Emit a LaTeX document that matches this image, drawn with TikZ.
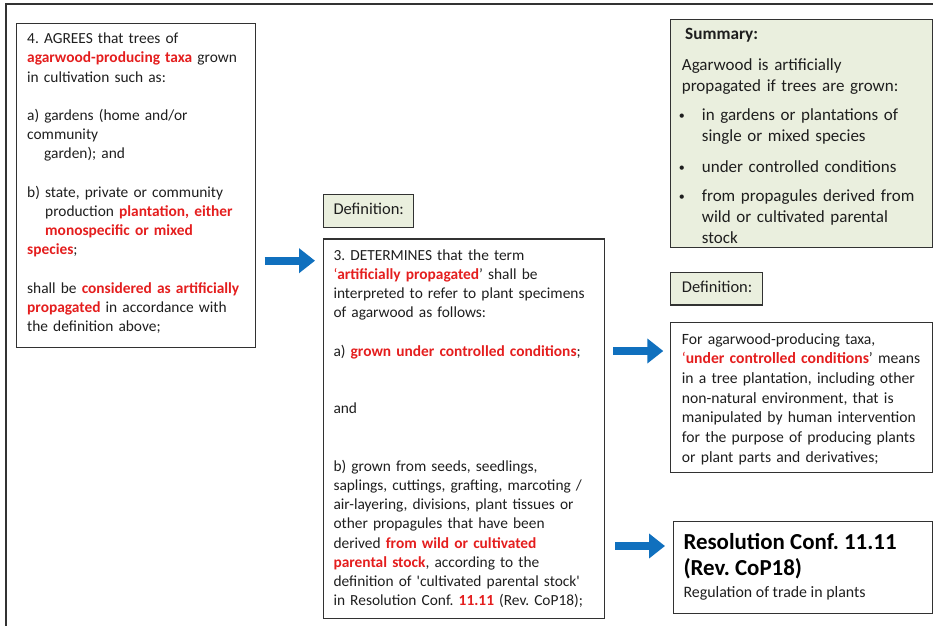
\documentclass[tikz,border=0pt]{standalone}
\usepackage{fontspec}
\setmainfont{Carlito}
\usetikzlibrary{arrows.meta}
\definecolor{agred}{RGB}{228,30,30}
\definecolor{txt}{RGB}{30,30,30}
\definecolor{edge}{RGB}{50,50,50}
\definecolor{sumfill}{RGB}{234,239,222}
\definecolor{arblue}{RGB}{16,112,190}
\frenchspacing
\newcommand\rb[1]{\textcolor{agred}{\textbf{#1}}}
\newcommand\redq{\textcolor{agred}{‘}}
\newcommand\tst{\noindent\rule{0pt}{0.9em}}
\newcommand\fsz[2]{\fontsize{#1}{#2}\selectfont}
\newcommand\bul{\hspace*{-4pt}\makebox[24pt][l]{\hspace*{1pt}{\fsz{12}{12}\raisebox{0.8pt}{•}}}}
\tikzset{
  boxframe/.style={draw=edge, line width=1.4pt, inner sep=0pt, anchor=north west},
  greenframe/.style={boxframe, fill=sumfill},
  txtnode/.style={text=txt, inner sep=0pt, anchor=north west, align=left, text width=300pt},
  linenode/.style={text=txt, inner sep=0pt, anchor=base west},
  blockarrow/.style={draw=arblue, line width=7.7pt, -{Triangle[width=24pt,length=16pt]}},
}
\begin{document}
\begin{tikzpicture}[x=1pt,y=-1pt]
\useasboundingbox (0,0) rectangle (933,626);
% outer frame (cropped)
\draw[draw=edge, line width=2pt] (933,4) -- (6,4) -- (6,626);

% ---- boxes ----
\node[boxframe, minimum width=239.3pt, minimum height=324pt] (b1) at (15.7,23) {};
\node[greenframe, minimum width=90.3pt, minimum height=32.7pt] (d1) at (322.7,194) {};
\node[boxframe, minimum width=281pt, minimum height=379.7pt] (b3) at (323,238.3) {};
\node[greenframe, minimum width=261.7pt, minimum height=227.7pt] (sum) at (670,19) {};
\node[greenframe, minimum width=91.7pt, minimum height=32.6pt] (d2) at (670,271.7) {};
\node[boxframe, minimum width=261.7pt, minimum height=150pt] (b4) at (670,321.7) {};
\node[boxframe, minimum width=259pt, minimum height=92pt] (b5) at (672.7,520.7) {};

% ---- box 1 text ----
\node[txtnode, font=\fsz{15.4}{19.2}] (t1) at (27,29.6) {\tst 4. AGREES that trees of\\
\rb{agarwood-producing taxa} grown\\
in cultivation such as:\\
\mbox{}\\
a) gardens (home and/or\\
community\\
\hspace*{17pt}garden); and\\
\mbox{}\\
b) state, private or community\\
\hspace*{18pt}production \rb{plantation, either}\\
\hspace*{18pt}\rb{monospecific or mixed}\\
\rb{species};\\
\mbox{}\\
shall be \rb{considered as artificially}\\
\rb{propagated} in accordance with\\
the definition above;};

% ---- definition labels ----
\node[linenode, font=\fsz{16.5}{19}] (dl1) at (333.3,214.5) {Definition:};
\node[linenode, font=\fsz{16.5}{19}] (dl2) at (681.7,292) {Definition:};

% ---- box 3 text ----
\node[txtnode, font=\fsz{15.4}{19.2}] (t3) at (333.3,246.1) {\tst 3. DETERMINES that the term\\
\redq\rb{artificially propagated}’ shall be\\
interpreted to refer to plant specimens\\
of agarwood as follows:\\
\mbox{}\\
a) \rb{grown under controlled conditions};\\
\mbox{}\\
\mbox{}\\
and\\
\mbox{}\\
\mbox{}\\
b) grown from seeds, seedlings,\\
saplings, cuttings, grafting, marcoting /\\
air-layering, divisions, plant tissues or\\
other propagules that have been\\
derived \rb{from wild or cultivated}\\
\rb{parental stock}, according to the\\
definition of \textquotesingle cultivated parental stock\textquotesingle\\
in Resolution Conf. \rb{11.11} (Rev. CoP18);};

% ---- summary ----
\node[linenode, font=\fsz{17.2}{21}\bfseries] (sh) at (685,40) {Summary:};
\node[txtnode, font=\fsz{17}{21}] (st) at (681.7,54.7) {\tst Agarwood is artificially\\
propagated if trees are grown:\\[8pt]
\bul in gardens or plantations of\\
\hspace*{20pt}single or mixed species\\[10pt]
\bul under controlled conditions\\[8pt]
\bul from propagules derived from\\
\hspace*{20pt}wild or cultivated parental\\
\hspace*{20pt}stock};

% ---- box 4 text ----
\node[txtnode, font=\fsz{15.65}{19.7}] (t4) at (681.7,329.9) {\tst For agarwood-producing taxa,\\
\redq\rb{under controlled conditions}’ means\\
in a tree plantation, including other\\
non-natural environment, that is\\
manipulated by human intervention\\
for the purpose of producing plants\\
or plant parts and derivatives;};

% ---- box 5 text ----
\node[linenode, font=\fsz{22.9}{26}\bfseries, text=black] (r1) at (683.3,549) {Resolution Conf. 11.11};
\node[linenode, font=\fsz{22.9}{26}\bfseries, text=black] (r2) at (683.3,575) {(Rev. CoP18)};
\node[linenode, font=\fsz{15.9}{19}] (r3) at (683.3,597.5) {Regulation of trade in plants};

% ---- arrows ----
\coordinate (a1) at (0,260.7);
\coordinate (a2) at (0,351);
\coordinate (a3) at (0,546);
\draw[blockarrow, shorten <=8.3pt, shorten >=8pt] (b1.east |- a1) -- (b3.west |- a1);
\draw[blockarrow, shorten <=7.7pt, shorten >=6.7pt] (b3.east |- a2) -- (b4.west |- a2);
\draw[blockarrow, shorten <=10pt, shorten >=7.7pt] (b3.east |- a3) -- (b5.west |- a3);
\end{tikzpicture}
\end{document}
